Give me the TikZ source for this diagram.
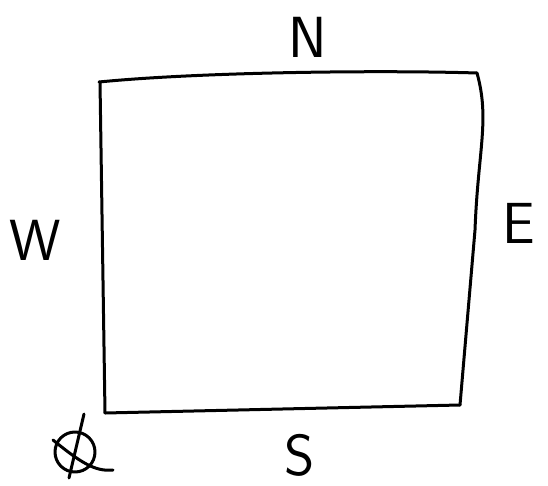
\documentclass[tikz,border=0pt]{standalone}
\begin{document}
\begin{tikzpicture}[x=1pt,y=-1pt,
  pen/.style={line width=3pt,line cap=round,line join=round},
  lbl/.style={font=\sffamily\fontsize{58}{62}\selectfont,inner sep=0pt}]
\useasboundingbox (0,0) rectangle (548,486);
\coordinate (tl) at (99,82);
\coordinate (tr) at (477,73);
\coordinate (br) at (460,405);
\coordinate (bl) at (105,413);
\draw[pen] (tl) .. controls (200,72) and (380,70) .. (tr);
\draw[pen] (tr) .. controls (490,120) and (478,150) .. (475,230) -- (br);
\draw[pen] (br) -- (bl);
\draw[pen] (bl) -- (100,82);
\node[lbl] (N) at (308,37) {N};
\node[lbl] (W) at (35,240) {W};
\node[lbl] (E) at (519,223) {E};
\node[lbl] (S) at (300,455) {S};
\draw[pen] (75,452) circle (20);
\draw[pen] (84,414) -- (69,478);
\draw[pen] (53,440) .. controls (80,462) and (95,472) .. (113,470);
\end{tikzpicture}
\end{document}
